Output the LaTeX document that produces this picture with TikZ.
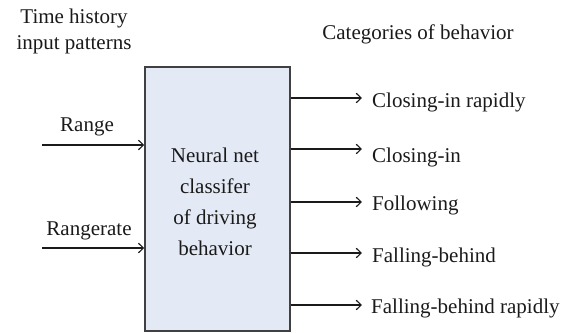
\documentclass[tikz,border=0pt]{standalone}
\usepackage{fontspec}
\setmainfont{Liberation Serif}
\usetikzlibrary{arrows.meta}
\definecolor{boxfill}{HTML}{E4EAF5}
\definecolor{boxline}{HTML}{404040}
\definecolor{ink}{HTML}{1A1A1A}
\begin{document}
\begin{tikzpicture}[x=1pt,y=-1pt,
  lbl/.style={inner sep=0pt,text=ink,font=\fontsize{21}{26}\selectfont},
  conn/.style={draw=ink,line width=1.1pt,-{Straight Barb[length=5pt,width=9.5pt,line width=1.1pt]}},
  classbox/.style={draw=boxline,fill=boxfill,line width=1.5pt,minimum width=145pt,minimum height=264pt,inner sep=0pt},
  boxtext/.style={inner sep=0pt,align=center,text=ink,font=\fontsize{21}{31}\selectfont}]
\useasboundingbox (0,0) rectangle (570,332);
\node[classbox] (box) at (217.5,199) {};
\node[boxtext] (btxt) at (215,202) {Neural net\\classifer\\of driving\\behavior};
\node[lbl,align=center] (hist) at (74,31) {Time history\\input patterns};
\node[lbl] (cat) at (418,34) {Categories of behavior};
\node[lbl] (range) at (87,127) {Range};
\node[lbl] (rrate) at (89,231) {Rangerate};
\coordinate (i1) at (42,145);
\coordinate (i2) at (42,248);
\draw[conn] (i1) -- (box.west |- i1);
\draw[conn] (i2) -- (box.west |- i2);
\coordinate (t1) at (362,98);
\coordinate (t2) at (362,149);
\coordinate (t3) at (362,202);
\coordinate (t4) at (362,253);
\coordinate (t5) at (362,305);
\node[lbl,anchor=west] (o1) at (372,102) {Closing-in rapidly};
\node[lbl,anchor=west] (o2) at (372,157) {Closing-in};
\node[lbl,anchor=west] (o3) at (372,205) {Following};
\node[lbl,anchor=west] (o4) at (372,257) {Falling-behind};
\node[lbl,anchor=west] (o5) at (371,308) {Falling-behind rapidly};
\foreach \t in {t1,t2,t3,t4,t5}{\draw[conn] (box.east |- \t) -- (\t);}
\end{tikzpicture}
\end{document}
